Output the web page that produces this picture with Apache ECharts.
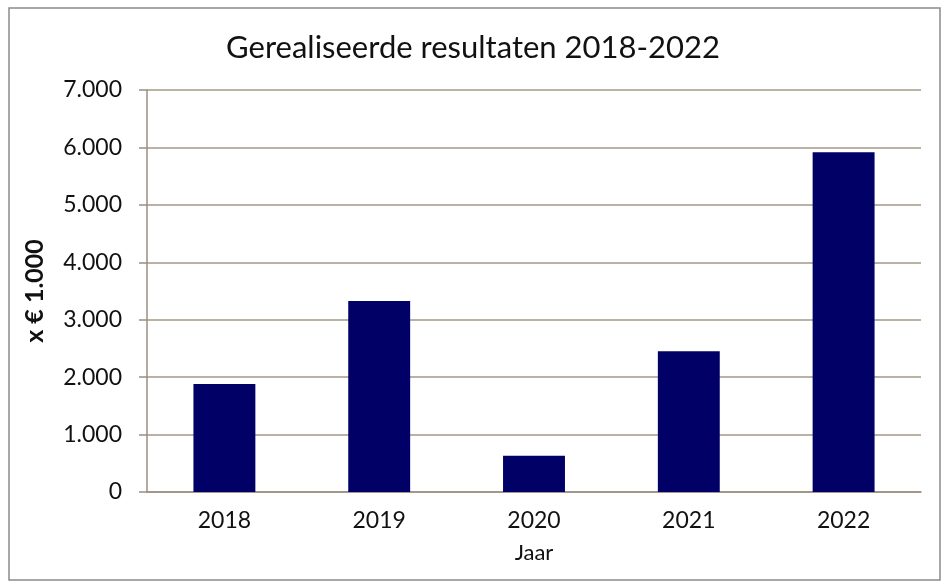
<!DOCTYPE html>
<html><head><meta charset="utf-8">
<script src="https://cdn.jsdelivr.net/npm/echarts@6/dist/echarts.min.js"></script>
<style>html,body{margin:0;padding:0;background:#fff}#c{width:946px;height:585px}</style>
</head><body><div id="c"></div>
<script>
const categories = ['2018','2019','2020','2021','2022'];
const values = [1880, 3325, 632, 2450, 5915];
const yTicks = [0, 1000, 2000, 3000, 4000, 5000, 6000, 7000];
const titleText = 'Gerealiseerde resultaten 2018-2022';
const xName = 'Jaar';
const yName = 'x € 1.000';

const font = 'Lato, "Open Sans", sans-serif';
const chart = echarts.init(document.getElementById('c'), null, {renderer:'canvas'});
chart.setOption({
  backgroundColor:'#fff',
  animation:false,
  title:{text:titleText,left:'center',top:27,textStyle:{fontFamily:font,fontSize:31,fontWeight:'normal',color:'#111'}},
  graphic:[{type:'rect',shape:{x:9,y:8,width:931,height:572},style:{fill:null,stroke:'#8a8a8a',lineWidth:1.5}}],
  grid:{left:147,right:25,top:90,bottom:93},
  xAxis:{type:'category',data:categories,name:xName,nameLocation:'middle',nameGap:50,
    nameTextStyle:{fontFamily:font,fontSize:22,color:'#111'},
    axisLine:{lineStyle:{color:'#9a8f80',width:1.5}},axisTick:{show:false},
    axisLabel:{fontFamily:font,fontSize:23,color:'#111',margin:17}},
  yAxis:{type:'value',min:yTicks[0],max:yTicks[yTicks.length-1],interval:1000,name:yName,nameLocation:'middle',nameGap:100,
    nameTextStyle:{fontFamily:font,fontSize:25,fontWeight:'bold',color:'#111'},
    axisLine:{show:true,lineStyle:{color:'#9a8f80',width:1.5}},
    axisTick:{show:true,length:8,lineStyle:{color:'#9a8f80',width:1.5}},
    splitLine:{lineStyle:{color:'#a39886',width:1.5}},
    axisLabel:{fontFamily:font,fontSize:23,color:'#111',margin:25,
      formatter:v=>v===0?'0':(v/1000)+'.000'}},
  series:[{type:'bar',data:values,barWidth:'40%',itemStyle:{color:'#000066'}}]
});
</script></body></html>
